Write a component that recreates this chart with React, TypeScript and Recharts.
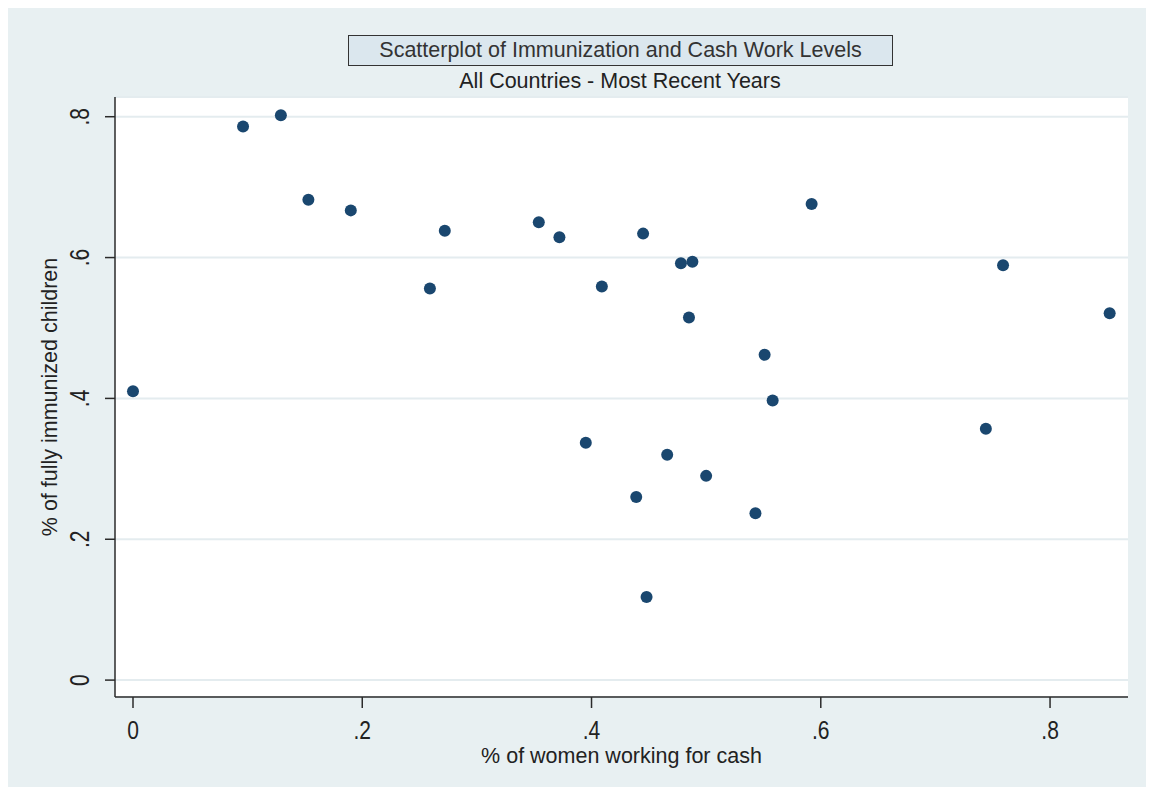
import React from 'react';
import { ScatterChart, Scatter, XAxis, YAxis, CartesianGrid } from 'recharts';

// % of women working for cash (x) and % of fully immunized children (y), one entry per country
const womenCash = [
  0.0, 0.096, 0.129, 0.153, 0.19, 0.259, 0.272, 0.354, 0.372, 0.395, 0.409, 0.439, 0.445,
  0.448, 0.466, 0.478, 0.485, 0.488, 0.5, 0.543, 0.551, 0.558, 0.592, 0.744, 0.759, 0.852,
];
const immunized = [
  0.41, 0.786, 0.802, 0.682, 0.667, 0.556, 0.638, 0.65, 0.629, 0.337, 0.559, 0.26, 0.634,
  0.118, 0.32, 0.592, 0.515, 0.594, 0.29, 0.237, 0.462, 0.397, 0.676, 0.357, 0.589, 0.521,
];
const xTicks = [0, 0.2, 0.4, 0.6, 0.8];
const yTicks = [0, 0.2, 0.4, 0.6, 0.8];

const TITLE = 'Scatterplot of Immunization and Cash Work Levels';
const SUBTITLE = 'All Countries - Most Recent Years';
const X_LABEL = '% of women working for cash';
const Y_LABEL = '% of fully immunized children';

const data = womenCash.map((x, i) => ({ x, y: immunized[i] }));

const FONT = '"Liberation Sans", Arial, sans-serif';
const BG = '#e8f0f2';
const NAVY = '#1a476f';
const INK = '#222';

// stata style: "0", ".2", ".4" ...
const fmt = (v: number) => (v === 0 ? '0' : String(v).replace(/^0/, ''));

const XTick = (props: any) => {
  const { x, payload } = props;
  return (
    <g transform={`translate(${x},725)`}>
      <text
        transform="scale(1,1.25)"
        textAnchor="middle"
        dominantBaseline="central"
        fontSize={21}
        fontFamily={FONT}
        fill={INK}
      >
        {fmt(payload.value)}
      </text>
    </g>
  );
};

const YTick = (props: any) => {
  const { y, payload } = props;
  return (
    <g transform={`translate(72,${y}) rotate(-90)`}>
      <text
        transform="scale(1,1.3)"
        textAnchor="middle"
        dominantBaseline="central"
        fontSize={21}
        fontFamily={FONT}
        fill={INK}
      >
        {fmt(payload.value)}
      </text>
    </g>
  );
};

const Dot = (props: any) => <circle cx={props.cx} cy={props.cy} r={6} fill={NAVY} />;

export default function App() {
  return (
    <div style={{ position: 'relative', width: 1154, height: 795, margin: -8, background: '#fff', fontFamily: FONT }}>
      <div style={{ position: 'absolute', left: 7, top: 5, width: 1143, height: 788, background: BG }}>
        <ScatterChart
          width={1143}
          height={788}
          margin={{ top: 92, right: 22, bottom: 26, left: 38 }}
        >
          <CartesianGrid vertical={false} fill="#ffffff" stroke="#e4ecef" strokeWidth={2} />
          <XAxis
            type="number"
            dataKey="x"
            domain={[-0.0157, 0.868]}
            ticks={xTicks}
            allowDataOverflow
            height={70}
            tickSize={11}
            tick={<XTick />}
            axisLine={{ stroke: '#2b2b2b', strokeWidth: 1.5 }}
            tickLine={{ stroke: '#2b2b2b', strokeWidth: 1.5 }}
            label={{ value: X_LABEL, position: 'insideBottom', offset: 4, fill: INK, fontSize: 21.5, fontFamily: FONT }}
          />
          <YAxis
            type="number"
            dataKey="y"
            domain={[-0.024, 0.828]}
            ticks={yTicks}
            allowDataOverflow
            width={70}
            tickSize={10}
            tick={<YTick />}
            axisLine={{ stroke: '#2b2b2b', strokeWidth: 1.5 }}
            tickLine={{ stroke: '#2b2b2b', strokeWidth: 1.5 }}
            label={{
              value: Y_LABEL,
              angle: -90,
              position: 'insideLeft',
              offset: 4,
              fill: INK,
              fontSize: 21.5,
              fontFamily: FONT,
              style: { textAnchor: 'middle' },
            }}
          />
          <Scatter data={data} fill={NAVY} shape={<Dot />} isAnimationActive={false} />
        </ScatterChart>
      </div>
      <div
        style={{
          position: 'absolute',
          left: 348,
          top: 35,
          width: 545,
          height: 31,
          boxSizing: 'border-box',
          border: '1.5px solid #333',
          background: '#dbe7ee',
          color: '#333',
          fontSize: 21.5,
          lineHeight: '28px',
          textAlign: 'center',
          whiteSpace: 'nowrap',
        }}
      >
        {TITLE}
      </div>
      <div
        style={{
          position: 'absolute',
          left: 320,
          top: 68,
          width: 600,
          color: INK,
          fontSize: 21.5,
          lineHeight: '26px',
          textAlign: 'center',
          whiteSpace: 'nowrap',
        }}
      >
        {SUBTITLE}
      </div>
    </div>
  );
}
